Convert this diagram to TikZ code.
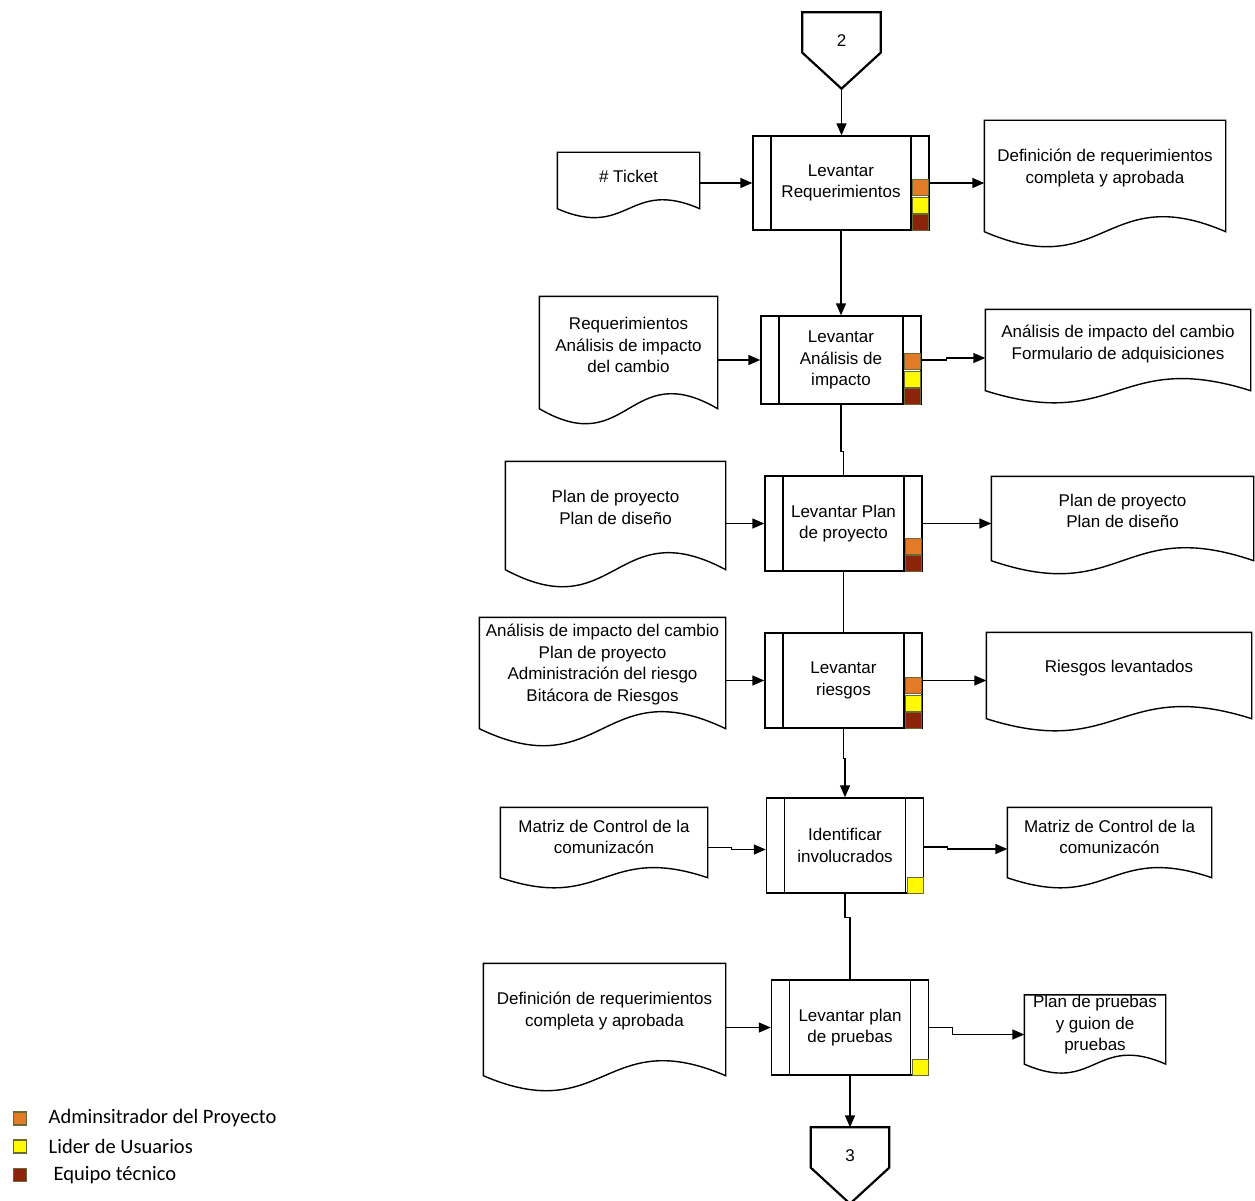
\documentclass[tikz,border=0pt]{standalone}
\usepackage{fontspec}
\setmainfont{Liberation Sans}
\newfontfamily\legendfont{Carlito}
\usetikzlibrary{arrows.meta}
\definecolor{xorange}{RGB}{226,122,40}
\definecolor{xyellow}{RGB}{255,250,0}
\definecolor{xbrown}{RGB}{140,36,12}
\definecolor{xolive}{RGB}{105,105,55}

% document outline: node, extra depth below the node, wave control
\newcommand{\docframe}[3]{%
  \draw (#1.north west) -- (#1.north east) -- ([yshift=-#2pt]#1.south east)
    .. controls ([yshift={(#3-#2)*1pt}]#1.south) and ([yshift={(-#3-#2)*1pt}]#1.south) ..
    ([yshift=-#2pt]#1.south west) -- cycle;}
% off-page connector around a node
\newcommand{\offpageframe}[1]{%
  \draw[line width=2.2pt] (#1.north west) -- (#1.north east) -- ([yshift=17pt]#1.south east)
    -- ([yshift=-19pt]#1.south) -- ([yshift=17pt]#1.south west) -- cycle;}
% role squares, listed from the bottom up
\newcommand{\roles}[2]{%
  \foreach \c [count=\i from 0] in {#2}
    \draw[rolebox, fill=\c] ([xshift=-17pt, yshift={\i*17.5pt}]#1.south east) rectangle ++(16,-16);}

\begin{document}
\begin{tikzpicture}[x=1pt, y=-1pt, >={Triangle[length=12pt,width=10pt]}, line width=1.4pt,
  every node/.style={font=\fontsize{17}{21.5}\selectfont}]
\tikzset{proc/.style={draw, minimum width=157, minimum height=95, align=center, inner sep=2pt,
  path picture={\draw ([xshift=18pt]path picture bounding box.north west) -- ([xshift=18pt]path picture bounding box.south west)
    ([xshift=-18pt]path picture bounding box.north east) -- ([xshift=-18pt]path picture bounding box.south east);}}}
\tikzset{doc/.style={align=center, inner sep=0pt}}
\tikzset{offpage/.style={minimum width=77, minimum height=56, inner sep=0pt}}
\tikzset{rolebox/.style={draw=xolive, line width=1.2pt}}
\tikzset{legsq/.style={draw=xolive, line width=1.5pt, minimum size=13, inner sep=0pt}}
\tikzset{legtxt/.style={anchor=west, inner sep=0pt, font=\legendfont\fontsize{20.5}{22}\selectfont}}
\useasboundingbox (0,0) rectangle (1255,1201);

\node[offpage] (c2) at (841.5,41) {2};
\offpageframe{c2}
\coordinate (c2tip) at ([yshift=-19pt]c2.south);

% process boxes
\node[proc, minimum width=176, minimum height=94] (b1) at (841,183) {Levantar\\Requerimientos};
\node[proc, minimum width=160, minimum height=88] (b2) at (841,360) {Levantar\\Análisis de\\impacto};
\node[proc] (b3) at (843.5,523.5) {Levantar Plan\\de proyecto};
\node[proc] (b4) at (843.5,680.5) {Levantar\\riesgos};
\node[proc] (b5) at (845,845.5) {Identificar\\involucrados};
\node[proc] (b6) at (850,1027.5) {Levantar plan\\de pruebas};
\roles{b1}{xbrown,xyellow,xorange}
\roles{b2}{xbrown,xyellow,xorange}
\roles{b3}{xbrown,xorange}
\roles{b4}{xbrown,xyellow,xorange}
\roles{b5}{xyellow}
\roles{b6}{xyellow}

% inputs and outputs
\node[doc, minimum width=141, minimum height=46] (tk) at (628.5,176) {\# Ticket};
\node[doc, minimum width=240, minimum height=94] (dout1) at (1105,168) {Definición de requerimientos\\completa y aprobada};
\node[doc, minimum width=177, minimum height=96] (din2) at (628.5,345) {Requerimientos\\Análisis de impacto\\del cambio};
\node[doc, minimum width=264, minimum height=68] (dout2) at (1118,344) {Análisis de impacto del cambio\\Formulario de adquisiciones};
\node[doc, minimum width=219, minimum height=91] (din3) at (615.5,507.5) {Plan de proyecto\\Plan de diseño};
\node[doc, minimum width=261, minimum height=68] (dout3) at (1122.5,511) {Plan de proyecto\\Plan de diseño};
\node[doc, minimum width=245, minimum height=93] (din4) at (602.5,664.5) {Análisis de impacto del cambio\\Plan de proyecto\\Administración del riesgo\\Bitácora de Riesgos};
\node[doc, minimum width=264, minimum height=70] (dout4) at (1119,668) {Riesgos levantados};
\node[doc, minimum width=206, minimum height=58] (din5) at (604,837) {Matriz de Control de la\\comunizacón};
\node[doc, minimum width=203, minimum height=58] (dout5) at (1109.5,837) {Matriz de Control de la\\comunizacón};
\node[doc, minimum width=241, minimum height=94] (din6) at (604.5,1011) {Definición de requerimientos\\completa y aprobada};
\node[doc, minimum width=140, minimum height=58] (dout6) at (1095,1025) {Plan de pruebas\\y guion de\\pruebas};
\docframe{tk}{9}{31}
\docframe{dout1}{16}{52}
\docframe{din2}{15}{52}
\docframe{dout2}{12}{42}
\docframe{din3}{16}{59}
\docframe{dout3}{15}{45}
\docframe{din4}{17}{59}
\docframe{dout4}{15}{42}
\docframe{din5}{11}{35}
\docframe{dout5}{11}{35}
\docframe{din6}{17}{52}
\docframe{dout6}{9}{31}

\node[offpage] (c3) at (850,1156) {3};
\offpageframe{c3}

% flow
\draw[->] (c2tip) -- (c2tip |- b1.north);
\draw[->] (tk.east |- b1.west) -- (b1.west);
\draw[->] (b1.east) -- (b1.east -| dout1.west);
\draw[->] (b1.south) -- (b2.north);
\draw[->] (din2.east |- b2.west) -- (b2.west);
\draw[->] (b2.east) -- ++(25,0) |- ([yshift=2pt]b2.east -| dout2.west);
\draw (b2.south) -- ++(0,47) -| (b3.north);
\draw[->] (din3.east |- b3.west) -- (b3.west);
\draw[->] (b3.east) -- (b3.east -| dout3.west);
\draw (b3.south) -- (b4.north);
\draw[->] (din4.east |- b4.west) -- (b4.west);
\draw[->] (b4.east) -- (b4.east -| dout4.west);
\draw[->] (b4.south) -- ++(0,30) -| (b5.north);
\draw[->] ([yshift=-2pt]b5.west -| din5.east) -- ++(24,0) |- ([yshift=-4pt]b5.west);
\draw[->] ([yshift=-1.5pt]b5.east) -- ++(23,0) |- ([yshift=-3.5pt]b5.east -| dout5.west);
\draw (b5.south) -- ++(0,24) -| (b6.north);
\draw[->] (din6.east |- b6.west) -- (b6.west);
\draw[->] (b6.east) -- ++(23,0) |- ([yshift=-7pt]b6.east -| dout6.west);
\draw[->] (b6.south) -- (c3.north);

% legend
\node[legsq, fill=xorange] (sq1) at (20,1118.5) {};
\node[legsq, fill=xyellow] (sq2) at (20,1146.5) {};
\node[legsq, fill=xbrown] (sq3) at (20,1175) {};
\node[legtxt] (lg1) at (48,1118.5) {Adminsitrador del Proyecto};
\node[legtxt] (lg2) at (48,1146.5) {Lider de Usuarios};
\node[legtxt] (lg3) at (53,1175) {Equipo técnico};
\end{tikzpicture}
\end{document}
